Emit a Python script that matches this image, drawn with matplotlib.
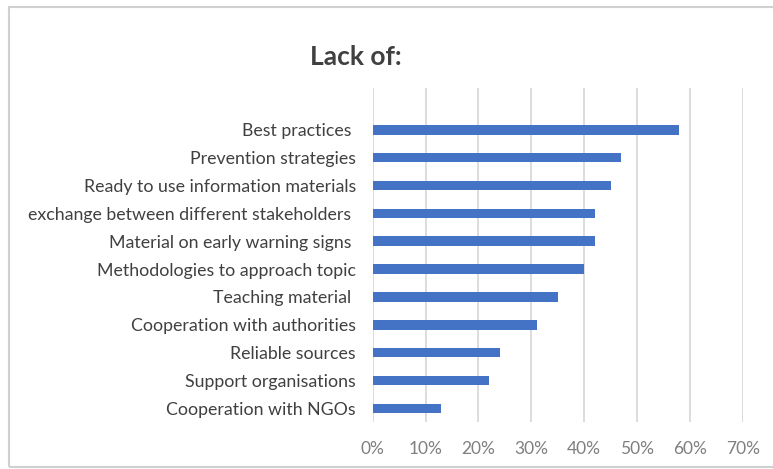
import matplotlib
matplotlib.use("Agg")
import matplotlib.pyplot as plt
from matplotlib.patches import Rectangle
from matplotlib.ticker import FuncFormatter

# categories, bottom to top (as drawn)
categories = [
    "Cooperation with NGOs",
    "Support organisations",
    "Reliable sources",
    "Cooperation with authorities",
    "Teaching material ",
    "Methodologies to approach topic",
    "Material on early warning signs ",
    "exchange between different stakeholders ",
    "Ready to use information materials",
    "Prevention strategies",
    "Best practices ",
]
values = [13, 22, 24, 31, 35, 40, 42, 42, 45, 47, 58]
xticks = [0, 10, 20, 30, 40, 50, 60, 70]

plt.rcParams["font.family"] = ["Lato", "DejaVu Sans"]

W, H = 773, 469
fig = plt.figure(figsize=(W / 100, H / 100), dpi=100)
fig.patch.set_facecolor("white")

# outer chart frame
fig.patches.append(Rectangle((9 / W, 1 - 467 / H), (W + 10) / W, (467 - 7) / H,
                             transform=fig.transFigure, fill=False,
                             edgecolor="#d0d0d0", linewidth=1.5))

ax = fig.add_axes([372.7 / W, 1 - 421.7 / H, (742.7 - 372.7) / W, (421.7 - 88) / H])
ypos = list(range(len(categories)))
ax.barh(ypos, values, height=0.34, color="#4472C4", zorder=3)

ax.set_xlim(0, 70)
ax.set_ylim(-0.48, 11.5)
ax.set_xticks(xticks)
ax.xaxis.set_major_formatter(FuncFormatter(lambda v, p: f"{v:.0f}%"))
ax.set_yticks(ypos)
ax.set_yticklabels(categories)

ax.grid(axis="x", color="#d9d9d9", linewidth=1.3, zorder=0)
for s in ax.spines.values():
    s.set_visible(False)
ax.tick_params(axis="x", length=0, pad=14, labelsize=12.5, labelcolor="#7f7f7f")
ax.tick_params(axis="y", length=0, pad=12, labelsize=12.8, labelcolor="#404040")

fig.text(356 / W, 1 - 65 / H, "Lack of:", ha="center", va="baseline",
         fontsize=19, fontweight="bold", color="#404040")

fig.savefig("out.png", dpi=100)
